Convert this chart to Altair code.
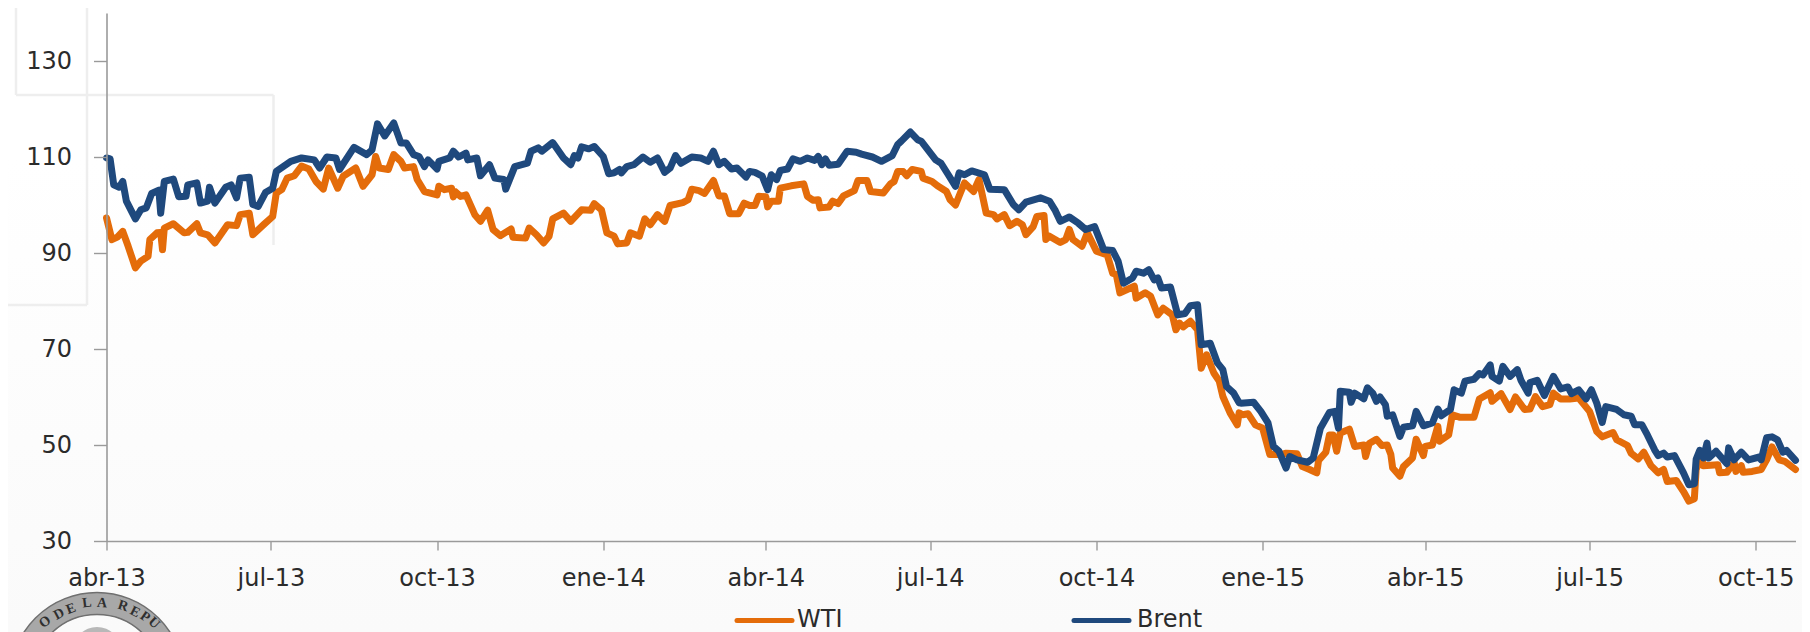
import altair as alt
import pandas as pd

# Days are counted from 1 April 2013; values are USD per barrel.
WTI_DAYS = [0,3,6,9,12,16,19,23,24,28,30,31,32,37,43,45,50,52,56,60,67,72,74,79,81,87,92,94,97,100,104,108,112,116,120,123,128,131,138,142,147,149,151,156,159,
 163,165,170,172,176,183,184,187,191,192,193,196,199,204,207,211,214,218,224,225,232,234,238,242,245,247,253,257,263,268,270,274,277,281,283,288,290,295,298,301,305,309,312,319,322,324,328,
 331,336,339,342,345,350,353,356,359,361,365,366,368,372,373,379,386,388,391,394,395,400,402,405,408,414,416,421,423,430,434,436,438,441,443,446,451,452,457,460,465,467,470,473,475,480,483,487,491,493,
 497,500,504,507,509,513,515,519,520,522,528,531,533,535,540,543,548,554,557,559,561,565,569,570,575,578,582,585,590,592,594,596,600,604,605,606,609,613,616,618,622,626,627,
 629,632,636,640,644,650,653,659,662,666,670,671,675,677,679,681,683,688,691,696,697,699,703,706,709,711,712,716,718,723,725,729,730,734,737,738,743,745,749,757,760,766,767,772,
 777,780,785,788,791,795,799,801,805,810,815,821,825,828,834,836,842,844,848,851,855,859,862,864,869,873,876,879,880,883,884,892,893,897,901,902,905,906,911,916,919,922,926,929,935]
WTI_VALUES = [97.3,92.8,93.3,94.5,91.4,86.9,88.3,89.3,92.8,94.2,94.3,90.7,95.2,96.1,94.2,94.3,96.1,94.2,93.8,92.1,95.9,95.7,98.0,98.3,93.8,95.9,97.6,102.5,103.2,105.6,106.1,108.1,107.5,104.9,103.3,107.7,103.5,106.0,107.7,103.9,106.3,110.1,107.7,107.4,110.5,
 109.1,107.7,108.0,105.3,102.8,102.1,103.9,103.2,103.5,101.7,102.8,101.8,102.1,97.9,96.6,98.9,94.9,93.6,95.0,93.3,93.1,95.2,93.8,92.1,93.5,97.1,98.3,96.6,99.0,98.9,100.3,99.0,94.2,93.5,91.9,92.1,94.2,93.5,97.1,95.9,98.0,96.6,99.9,100.5,101.1,103.3,103.0,
 102.4,105.1,101.9,101.9,98.2,98.2,100.4,99.9,99.9,101.8,101.7,99.6,100.8,100.8,103.5,104.0,104.4,101.8,101.0,101.1,99.4,99.6,100.8,100.3,101.9,103.0,105.1,105.1,102.8,102.5,104.4,104.9,107.0,107.0,106.1,107.4,107.0,105.6,104.9,104.0,102.8,101.1,100.0,102.8,104.6,102.8,105.3,98.3,98.0,97.1,
 98.0,95.7,96.6,95.9,93.8,95.5,97.6,97.8,92.8,93.5,92.2,92.8,94.9,92.8,91.4,94.2,90.4,89.6,85.8,85.5,81.7,82.4,83.1,80.6,81.7,81.0,77.1,78.5,77.1,74.0,75.4,74.6,75.8,74.0,69.9,66.0,68.8,65.0,63.3,60.1,56.7,54.2,56.7,
 56.3,56.5,54.2,53.5,48.0,48.0,48.3,48.2,45.5,44.9,44.2,46.8,48.5,52.1,52.1,48.7,52.5,53.3,49.7,50.0,47.6,50.3,51.2,49.9,50.0,48.0,45.2,43.5,45.5,47.3,51.2,47.8,49.7,50.0,53.9,50.8,52.1,56.3,55.8,55.8,59.6,60.9,59.1,60.7,
 57.4,60.0,57.4,57.5,60.1,58.0,58.4,60.8,59.6,59.6,59.8,57.0,52.8,51.7,52.6,51.1,49.9,48.3,47.1,48.5,45.7,44.2,44.9,42.4,42.6,40.3,38.3,38.8,44.9,48.0,45.7,45.9,44.2,44.3,46.4,44.5,45.7,44.3,44.5,44.9,46.9,49.6,46.9,46.6,44.9]

BRENT_DAYS = [0,2,4,7,9,11,16,19,22,25,29,30,32,37,40,44,45,50,52,56,57,60,66,69,72,74,79,81,84,88,92,94,102,108,115,118,122,127,129,137,144,147,150,154,159,
 163,166,170,173,176,178,183,184,190,192,195,199,200,205,207,212,215,220,221,226,233,235,239,241,247,253,257,259,261,263,267,270,275,278,281,284,285,288,292,297,301,305,309,312,315,318,324,
 329,333,336,339,342,346,349,354,356,359,363,366,368,371,373,377,380,384,388,392,394,396,398,400,405,410,415,418,424,429,435,438,440,445,449,451,459,462,466,470,472,475,479,486,489,
 497,502,505,509,517,522,525,528,533,538,542,547,552,557,560,563,568,570,574,577,580,582,584,589,593,597,600,604,606,611,615,618,620,624,627,
 628,635,639,643,646,649,653,655,659,665,668,672,677,680,682,683,688,689,691,696,698,701,703,705,708,709,712,716,718,723,725,729,734,737,739,744,746,750,752,757,760,762,766,767,771,773,
 777,781,783,787,788,792,796,801,805,809,811,815,819,822,825,828,830,836,840,844,846,850,853,857,859,862,864,868,873,876,879,880,882,884,886,887,891,897,898,901,905,909,915,916,919,922,925,928,930,935]
BRENT_VALUES = [109.8,109.6,104.2,103.7,104.9,100.8,97.1,99.0,99.4,102.4,103.1,98.3,104.9,105.4,101.7,101.8,104.2,104.6,100.4,100.8,103.7,100.4,103.7,104.2,101.5,105.6,105.8,100.1,99.7,102.6,103.5,107.0,109.1,109.8,109.4,107.7,110.0,109.8,107.4,112.0,110.5,111.5,116.9,114.4,117.1,
 112.9,112.9,110.5,110.1,108.0,109.4,107.5,109.1,109.8,111.2,110.0,110.8,109.4,109.8,106.1,108.4,105.6,105.3,103.3,108.0,108.7,111.2,111.9,111.2,113.0,109.8,108.4,110.3,109.8,112.1,111.7,112.2,110.1,106.5,106.7,107.4,106.7,108.0,108.4,110.0,108.9,109.8,106.8,107.7,110.3,108.7,110.0,
 109.8,109.1,111.2,108.4,109.1,107.5,107.7,105.8,107.0,106.8,106.0,103.2,106.3,105.3,107.2,107.5,109.6,109.1,109.8,109.3,110.1,108.4,109.6,108.3,108.5,111.2,111.0,110.6,110.0,109.1,110.3,112.6,113.3,115.2,113.6,113.3,109.4,108.7,106.3,103.9,106.7,106.3,107.1,106.3,103.3,
 103.2,100.1,99.0,100.6,101.5,100.8,99.0,96.6,97.5,96.2,94.9,95.5,90.7,90.5,88.3,83.7,84.8,86.2,85.8,86.5,84.4,84.8,82.7,82.9,77.1,77.4,79.0,79.2,70.9,71.2,67.1,65.7,62.2,60.8,58.8,
 58.7,58.9,57.0,54.6,49.7,48.7,45.2,47.6,46.9,46.4,47.3,53.5,56.8,57.0,53.5,61.2,61.0,58.9,60.8,59.6,61.9,60.8,59.1,60.0,58.4,56.0,56.3,51.8,53.7,54.0,57.0,54.0,54.6,57.5,56.1,57.4,61.5,60.8,63.3,63.7,64.9,64.6,66.7,64.3,63.3,66.4,
 64.3,65.7,63.5,60.8,63.0,63.5,60.3,64.3,61.7,62.1,60.7,61.5,59.6,61.5,58.7,54.7,58.0,57.4,56.3,56.0,54.2,54.2,52.1,49.0,47.8,48.3,47.5,47.8,44.2,41.7,41.9,47.0,48.9,47.3,50.4,47.3,48.7,46.1,49.4,46.9,48.5,46.9,47.5,46.9,51.5,51.7,51.1,48.5,48.9,46.8]

TICK_DAYS = [0,91,183,275,365,456,548,640,730,821,913]
TICK_LABELS = ["abr-13","jul-13","oct-13","ene-14","abr-14","jul-14","oct-14","ene-15","abr-15","jul-15","oct-15"]
Y_TICKS = [30,50,70,90,110,130]
SERIES = ["WTI","Brent"]
COLORS = ["#E46C0A","#1F497D"]

# Decoration only: seal letters around the ring (letter, page x, page y, rotation)
SEAL = [("O",45,622,322),("D",59,614,332),("E",71,609,340),("L",87,603,353),("A",102,603,4),
        ("R",123,606,18),("E",135,612,27),("P",145,617,35),("U",154,623,43)]
FADED_FRAME = [(87,0,87,305),(8,305,87,305),(16,95,273.5,95),(16,8,16,95),(273.5,95,273.5,245)]

OX, OY = 106.5, 13.0      # page position of the plot's origin
FONT = "DejaVu Sans"
TEXT = "#2b2b2b"
AXIS = "#9a9a9a"

df = pd.concat([
    pd.DataFrame({"day":WTI_DAYS,"price":WTI_VALUES,"series":"WTI"}).rename_axis("i").reset_index(),
    pd.DataFrame({"day":BRENT_DAYS,"price":BRENT_VALUES,"series":"Brent"}).rename_axis("i").reset_index(),
])

label_map = "{" + ",".join(f"'{d}':'{l}'" for d,l in zip(TICK_DAYS,TICK_LABELS)) + "}"
one = alt.Data(values=[{"k":1}])

background = alt.Chart(one).mark_rect(
    color=alt.LinearGradient(gradient="linear", x1=0, x2=0, y1=0, y2=1,
        stops=[alt.GradientStop(color="#ffffff",offset=0),
               alt.GradientStop(color="#ffffff",offset=0.25),
               alt.GradientStop(color="#fafafa",offset=1)])
).encode(x=alt.value(-OX), x2=alt.value(1810-OX), y=alt.value(-OY), y2=alt.value(632-OY))

deco = [alt.Chart(one).mark_rule(color="#eeeeee", size=2.5).encode(
            x=alt.value(a-OX), x2=alt.value(c-OX), y=alt.value(b-OY), y2=alt.value(d-OY))
        for a,b,c,d in FADED_FRAME]

lines = alt.Chart(df).mark_line(strokeWidth=7, strokeCap="round", strokeJoin="round", clip=False).encode(
    x=alt.X("day:Q", scale=alt.Scale(domain=[0,935], nice=False, zero=False),
        axis=alt.Axis(values=TICK_DAYS, title=None, grid=False, labelExpr=f"{label_map}[datum.value]", zindex=1,
            domainColor=AXIS, domainWidth=1.6, tickColor=AXIS, tickWidth=1.4, tickSize=9,
            labelFont=FONT, labelFontSize=24, labelColor=TEXT, labelPadding=16, labelOverlap=False, labelFlush=False)),
    y=alt.Y("price:Q", scale=alt.Scale(domain=[30,140], nice=False, zero=False),
        axis=alt.Axis(values=Y_TICKS, title=None, grid=False, zindex=1,
            domainColor=AXIS, domainWidth=1.6, tickColor=AXIS, tickWidth=1.4, tickSize=13,
            labelFont=FONT, labelFontSize=24, labelColor=TEXT, labelPadding=22)),
    color=alt.Color("series:N", scale=alt.Scale(domain=SERIES, range=COLORS), legend=None),
    order=alt.Order("i:Q"),
)

# Hand-placed legend at the foot of the page
legend_swatches = [alt.Chart(one).mark_rule(color=c, size=5, strokeCap="round").encode(
        x=alt.value(a-OX), x2=alt.value(b-OX), y=alt.value(620.5-OY))
    for c,a,b in [(COLORS[0],737,792),(COLORS[1],1074,1129)]]
legend_text = [alt.Chart(one).mark_text(text=t, align="left", baseline="alphabetic", font=FONT, fontSize=24, color=TEXT).encode(
        x=alt.value(a-OX), y=alt.value(627-OY))
    for t,a in [("WTI",797),("Brent",1137)]]

# Seal cropped by the bottom edge
SX, SY = 97, 679.5
seal = [
    alt.Chart(one).mark_arc(radius=87, radius2=65, theta=0, theta2=6.2832, color="#a8a8a8", stroke="#6f6f6f", strokeWidth=1.5).encode(
        x=alt.value(SX-OX), y=alt.value(SY-OY)),
    alt.Chart(one).mark_arc(radius=24, radius2=0, theta=0, theta2=6.2832, color="#b8b8b8").encode(
        x=alt.value(SX-OX), y=alt.value(651-OY)),
]
seal_letters = [alt.Chart(one).mark_text(text=t, font="Liberation Serif", fontWeight="bold", fontSize=14,
        color="#2f2f2f", angle=r, align="center", baseline="middle").encode(
        x=alt.value(a-OX), y=alt.value(b-OY))
    for t,a,b,r in SEAL]

chart = alt.layer(background, *deco, lines, *seal, *seal_letters, *legend_swatches, *legend_text).properties(
    width=1689, height=528,
    autosize=alt.AutoSizeParams(type="none"),
    padding={"left":98.5,"top":5,"right":6.5,"bottom":91},
    background="white",
).configure_view(stroke=None)

chart.save("out.html", embed_options={"renderer":"svg","actions":False})
